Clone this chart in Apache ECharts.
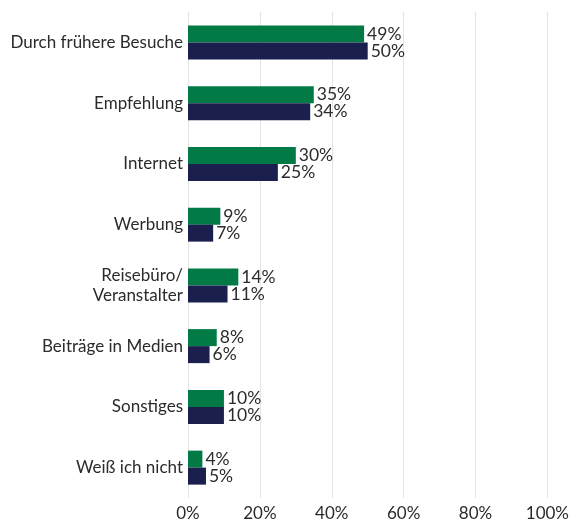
<!DOCTYPE html>
<html>
<head>
<meta charset="utf-8">
<script src="https://cdn.jsdelivr.net/npm/echarts@6/dist/echarts.min.js"></script>
<style>
  html, body { margin: 0; padding: 0; background: #fff; }
  #chart { width: 572px; height: 522px; }
</style>
</head>
<body>
<div id="chart"></div>
<script>
var categories = ['Durch frühere Besuche', 'Empfehlung', 'Internet', 'Werbung', 'Reisebüro/\nVeranstalter', 'Beiträge in Medien', 'Sonstiges', 'Weiß ich nicht'];
var greenValues = [49, 35, 30, 9, 14, 8, 10, 4];
var navyValues = [50, 34, 25, 7, 11, 6, 10, 5];
var xTicks = [0, 20, 40, 60, 80, 100];

var myChart = echarts.init(document.getElementById('chart'));

// gemeinsame Label-Einstellung
var labelOpt = {
    show: true,
    position: 'right',
    distance: 3,
    color: '#2b2b2b',
    fontFamily: 'Lato',
    fontSize: 17.5,
    formatter: '{c}%'
};

var option = {
    animation: false,
    grid: {
        left: 188,
        right: 23,
        top: 12,
        bottom: 21
    },
    xAxis: {
        type: 'value',
        min: xTicks[0],
        max: xTicks[xTicks.length - 1],
        interval: 20,
        axisLine: { show: false },
        axisTick: { show: false },
        splitLine: { lineStyle: { color: '#e3e3e3', width: 1 } },
        axisLabel: {
            color: '#2b2b2b',
            fontFamily: 'Lato',
            fontSize: 17,
            margin: 7,
            formatter: '{value}%'
        }
    },
    yAxis: {
        type: 'category',
        inverse: true,
        data: categories,
        axisLine: { show: false },
        axisTick: { show: false },
        axisLabel: {
            color: '#2b2b2b',
            fontFamily: 'Lato',
            fontSize: 17,
            lineHeight: 20,
            margin: 5
        }
    },
    series: [{
        type: 'bar',
        data: greenValues,
        barWidth: 17,
        barGap: '0%',
        itemStyle: { color: '#027a46' },
        label: labelOpt
    }, {
        type: 'bar',
        data: navyValues,
        barWidth: 17,
        barGap: '0%',
        itemStyle: { color: '#1a1f4e' },
        label: labelOpt
    }]
};
myChart.setOption(option);
</script>
</body>
</html>
